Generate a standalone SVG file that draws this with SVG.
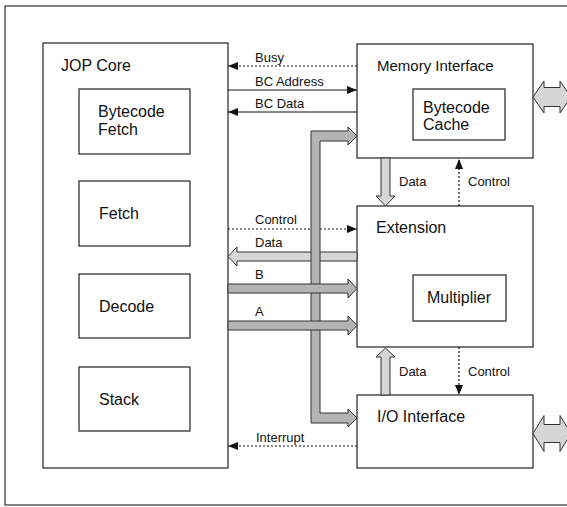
<svg xmlns="http://www.w3.org/2000/svg" width="567" height="507" viewBox="0 0 567 507">
<style>
.box{fill:#fff;stroke:#222;stroke-width:1.2}
.t{font-family:"Liberation Sans",Arial,sans-serif;font-size:16px;fill:#111}
.s{font-family:"Liberation Sans",Arial,sans-serif;font-size:13px;fill:#111}
.ln{fill:none;stroke:#111;stroke-width:1.2}
.dash{fill:none;stroke:#111;stroke-width:1.2;stroke-dasharray:2,2}
.lite{fill:#d6d6d6;stroke:#333;stroke-width:1}
.dark{fill:#b4b4b4;stroke:#333;stroke-width:1}
</style>
<defs>
<marker id="ah" markerUnits="userSpaceOnUse" markerWidth="10" markerHeight="8" refX="10" refY="4" orient="auto">
<path d="M0,0 L10,4 L0,8 z" fill="#111"/>
</marker>
</defs>
<rect x="0" y="0" width="567" height="507" fill="#fff"/>
<rect id="frame" x="5" y="6" width="570" height="499" fill="none" stroke="#333" stroke-width="1.2"/>

<g id="jop-core">
<rect class="box" x="43" y="43" width="185" height="425"/>
<text class="t" x="61" y="71">JOP Core</text>
</g>
<g id="bytecode-fetch">
<rect class="box" x="79" y="89" width="111" height="65"/>
<text class="t" x="98" y="117">Bytecode</text>
<text class="t" x="98" y="135">Fetch</text>
</g>
<g id="fetch">
<rect class="box" x="79" y="181" width="111" height="65"/>
<text class="t" x="99" y="219">Fetch</text>
</g>
<g id="decode">
<rect class="box" x="79" y="274" width="111" height="64"/>
<text class="t" x="99" y="312">Decode</text>
</g>
<g id="stack">
<rect class="box" x="79" y="367" width="111" height="64"/>
<text class="t" x="99" y="405">Stack</text>
</g>
<g id="memory-interface">
<rect class="box" x="357" y="44" width="176" height="114"/>
<text class="t" x="377" y="71" style="font-size:15px">Memory Interface</text>
</g>
<g id="bytecode-cache">
<rect class="box" x="413" y="89" width="92" height="51"/>
<text class="t" x="423" y="113">Bytecode</text>
<text class="t" x="423" y="130">Cache</text>
</g>
<g id="extension">
<rect class="box" x="357" y="206" width="176" height="141"/>
<text class="t" x="376" y="233">Extension</text>
</g>
<g id="multiplier">
<rect class="box" x="413" y="275" width="93" height="46"/>
<text class="t" x="427" y="303">Multiplier</text>
</g>
<g id="io-interface">
<rect class="box" x="357" y="395" width="176" height="73"/>
<text class="t" x="377" y="422">I/O Interface</text>
</g>

<g id="connectors">
<line class="dash" x1="357" y1="66" x2="228" y2="66" marker-end="url(#ah)"/>
<text class="s" x="255" y="62">Busy</text>
<line class="ln" x1="228" y1="90" x2="357" y2="90" marker-end="url(#ah)"/>
<text class="s" x="255" y="86">BC Address</text>
<line class="ln" x1="357" y1="112" x2="228" y2="112" marker-end="url(#ah)"/>
<text class="s" x="255" y="108">BC Data</text>

<line class="dash" x1="228" y1="229" x2="357" y2="229" marker-end="url(#ah)"/>
<text class="s" x="255" y="224">Control</text>

<polygon class="lite" points="357,252 237,252 237,247 228,256.5 237,266 237,261 357,261"/>
<text class="s" x="255" y="247">Data</text>

<polygon class="dark" points="311,131 348,131 348,127 357,136 348,145 348,141 320,141 320,413 348,413 348,409 357,418 348,427 348,423 311,423"/>

<polygon class="dark" points="228,284 348,284 348,279 357,288.5 348,298 348,293 228,293"/>
<text class="s" x="255" y="279">B</text>
<polygon class="dark" points="228,321 348,321 348,316 357,325.5 348,335 348,330 228,330"/>
<text class="s" x="255" y="316">A</text>

<line class="dash" x1="357" y1="446" x2="228" y2="446" marker-end="url(#ah)"/>
<text class="s" x="256" y="442">Interrupt</text>

<polygon class="lite" points="381,158 390,158 390,196 395,196 385.5,206 376,196 381,196"/>
<text class="s" x="399" y="186">Data</text>
<line class="dash" x1="459" y1="206" x2="459" y2="159" marker-end="url(#ah)"/>
<text class="s" x="468" y="186">Control</text>

<polygon class="lite" points="381,395 390,395 390,357 395,357 385.5,348 376,357 381,357"/>
<text class="s" x="399" y="376">Data</text>
<line class="dash" x1="459" y1="347" x2="459" y2="395" marker-end="url(#ah)"/>
<text class="s" x="468" y="376">Control</text>

<polygon class="lite" points="533,97 544,81 544,87.5 560,87.5 560,81 571,97 560,113 560,106.5 544,106.5 544,113"/>
<polygon class="lite" points="533,433.5 544,415.5 544,424.5 560,424.5 560,415.5 571,433.5 560,451.5 560,442.5 544,442.5 544,451.5"/>
</g>
</svg>
